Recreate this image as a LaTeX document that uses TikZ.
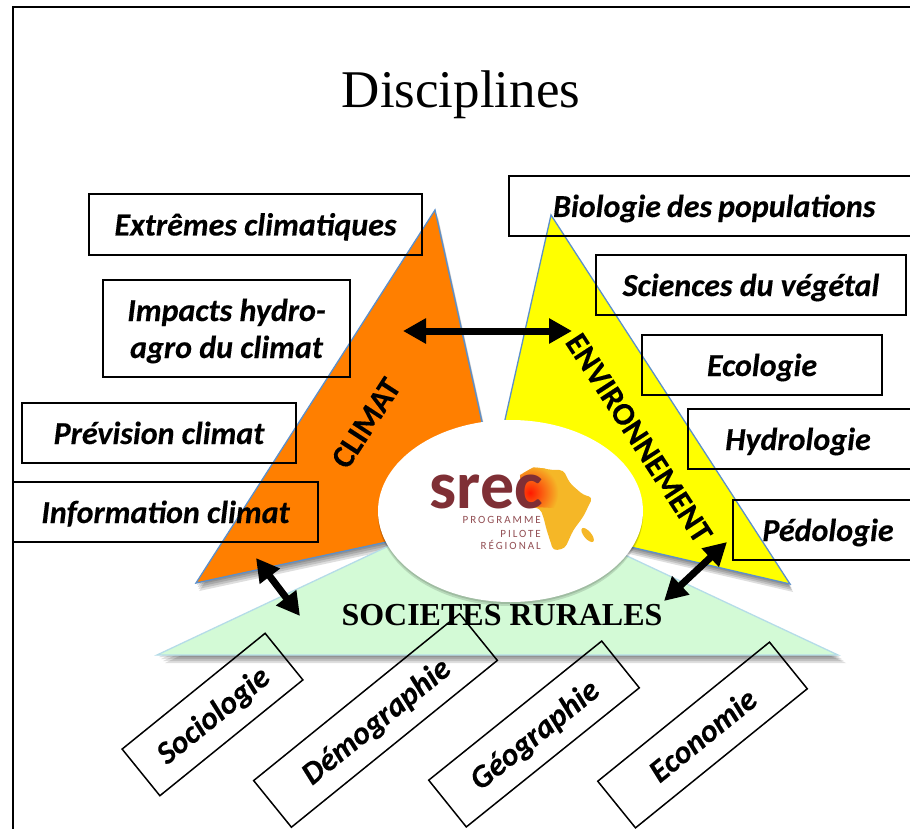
\documentclass[tikz,border=0pt]{standalone}
\usepackage{fontspec}
\setmainfont{Liberation Serif}
\newfontfamily\labfont[BoldFeatures={FakeBold=0.25},BoldItalicFeatures={FakeBold=0.25}]{Carlito}
\newfontfamily\logofont{Carlito}
\usetikzlibrary{arrows.meta,shapes.geometric}
\definecolor{orangeT}{HTML}{FF7F00}
\definecolor{yellowT}{HTML}{FFFF00}
\definecolor{greenT}{HTML}{D3FAD6}
\definecolor{edgeB}{HTML}{5B8FCB}
\definecolor{edgeG}{HTML}{B5DCE8}
\definecolor{srecR}{HTML}{7F2F35}
\definecolor{srecY}{HTML}{F5B727}
\newcommand{\lowered}[1]{\raisebox{-11pt}[10pt][10pt]{#1}}
\tikzset{
  x=1pt,y=-1pt,
  labbox/.style={draw=black,line width=1.5pt,inner sep=0pt,font=\labfont\fontsize{32}{37}\selectfont\bfseries\itshape,align=center},
  tritext/.style={font=\labfont\fontsize{32}{37}\selectfont\bfseries},
  bigarrow/.style={line width=7pt,{Triangle[length=23pt,width=24pt]}-{Triangle[length=23pt,width=24pt]}},
  tri/.style={line width=1.3pt,line join=miter},
  shad/.style={fill=black,opacity=0.13,draw=none},
  smalltext/.style={anchor=base east,inner sep=0pt,text=srecR!85,font=\logofont\fontsize{11}{12}\addfontfeatures{LetterSpace=18}\selectfont},
}
\begin{document}
\begin{tikzpicture}
\useasboundingbox (0,0) rectangle (910,829);
\fill[white] (0,0) rectangle (910,829);
% frame
\draw[line width=1.5pt] (13,829) -- (13,7) -- (910,7);
% title
\node (title) at (461,95) {\fontsize{53}{60}\selectfont Disciplines};
% shadows
\foreach \d in {2,4,6,8}{
  \fill[shad] (435+0.4*\d,210+\d) -- (196+0.4*\d,583+\d) -- (503+0.4*\d,517+\d) -- cycle;
  \fill[shad] (551+0.4*\d,215+\d) -- (790+0.4*\d,584+\d) -- (484+0.4*\d,513+\d) -- cycle;
  \fill[shad] (497,495+\d) -- (157+\d,655+\d) -- (838+\d,655+\d) -- cycle;
}
% triangles
\filldraw[tri,fill=greenT,draw=edgeG] (497,495) -- (157,655) -- (838,655) -- cycle;
\filldraw[tri,fill=orangeT,draw=edgeB] (435,210) -- (196,583) -- (503,517) -- cycle;
\filldraw[tri,fill=yellowT,draw=edgeB] (551,215) -- (790,584) -- (484,513) -- cycle;
% centre ellipse
\foreach \d in {2,4}{\fill[shad] (510.5,511+\d) ellipse [x radius=132.5,y radius=91];}
\node[ellipse,fill=white,inner sep=0pt,minimum width=265pt,minimum height=182pt] (centre) at (510.5,511) {};
% logo
\begin{scope}[shift={(370,420)},x=0.3333pt,y=-0.3333pt]
  \path[fill=srecY,rounded corners=4pt] (450,165) -- (490,142) -- (520,145) -- (545,150) -- (580,150) -- (600,190) -- (640,225) -- (668,232) -- (640,290) -- (610,330) -- (585,385) -- (550,392) -- (530,330) -- (520,290) -- (510,265) -- (470,260) -- (455,220) -- cycle;
  \fill[srecY,rotate around={-50:(653,345)}] (653,345) ellipse [x radius=26,y radius=11];
  \begin{scope}
    \clip (450,165) -- (490,142) -- (520,145) -- (570,150) -- (570,265) -- (470,260) -- (455,220) -- cycle;
    \shade[inner color=red!80!orange,outer color=srecY] (480,218) circle [radius=85];
  \end{scope}
\end{scope}
\node[anchor=base east,inner sep=0pt,text=srecR] (srec) at (543,508) {\logofont\fontsize{68}{70}\selectfont\bfseries srec};
\node[smalltext] (prog) at (541,523) {PROGRAMME};
\node[smalltext] (pil) at (541,537) {PILOTE};
\node[smalltext] (reg) at (541,549) {RÉGIONAL};
% triangle labels
\node[tritext,rotate=57] (climat) at (366,423) {CLIMAT};
\node[tritext,rotate=-57] (env) at (639,438) {ENVIRONNEMENT};
\node (soc) at (502,615) {\fontsize{32}{36}\selectfont\bfseries SOCIETES RURALES};
% boxes
\node[labbox,minimum width=333pt,minimum height=61pt] (b1) at (255.5,224.5) {\lowered{Extrêmes climatiques}};
\node[labbox,minimum width=247pt,minimum height=97pt] (b2) at (226.5,328.5) {\lowered{Impacts hydro-}\\\lowered{agro du climat}};
\node[labbox,minimum width=274pt,minimum height=60pt] (b3) at (159,433) {\lowered{Prévision climat}};
\node[labbox,minimum width=305pt,minimum height=60pt] (b4) at (165.5,512) {\lowered{Information climat}};
\node[labbox,minimum width=420pt,minimum height=60pt,text width=420pt,align=left] (b5) at (719,206) {\hspace*{44pt}\lowered{\spaceskip=6pt Biologie des populations}};
\node[labbox,minimum width=310pt,minimum height=60pt] (b6) at (751,285) {\lowered{Sciences du végétal}};
\node[labbox,minimum width=240pt,minimum height=60pt] (b7) at (762,365) {\lowered{Ecologie}};
\node[labbox,minimum width=240pt,minimum height=60pt] (b8) at (808,439) {\hspace*{-20pt}\lowered{Hydrologie}};
\node[labbox,minimum width=190pt,minimum height=60pt] (b9) at (828,530) {\lowered{Pédologie}};
% rotated boxes
\node[labbox,rotate=39,minimum width=184pt,minimum height=60pt] (r1) at (212.5,714.5) {\lowered{Sociologie}};
\node[labbox,rotate=39,minimum width=265pt,minimum height=60pt] (r2) at (375.5,720.5) {\lowered{Démographie}};
\node[labbox,rotate=38.8,minimum width=222pt,minimum height=60pt] (r3) at (534,734) {\lowered{Géographie}};
\node[labbox,rotate=39,minimum width=221pt,minimum height=60pt] (r4) at (702.5,735) {\lowered{Economie}};
% arrows
\coordinate (a1s) at (403,331); \coordinate (a1e) at (572,331);
\coordinate (a2s) at (256,558); \coordinate (a2e) at (300,616);
\coordinate (a3s) at (727,542); \coordinate (a3e) at (664,601);
\draw[bigarrow] (a1s) -- (a1e);
\draw[bigarrow] (a2s) -- (a2e);
\draw[bigarrow] (a3s) -- (a3e);
\end{tikzpicture}
\end{document}
